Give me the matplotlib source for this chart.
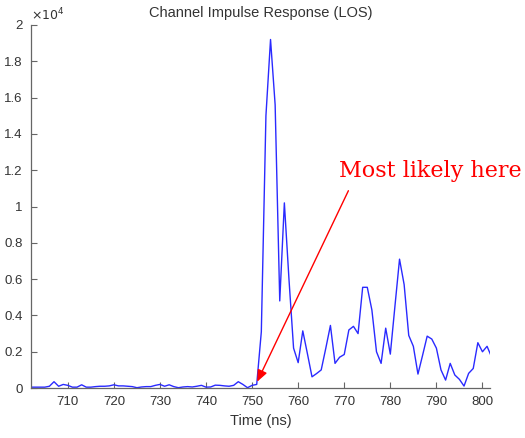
import numpy as np
import matplotlib
matplotlib.use("Agg")
import matplotlib.pyplot as plt
from matplotlib.ticker import FuncFormatter, MultipleLocator

# CIR magnitude, one sample per ns starting at 702 ns
t_start = 702
cir_amp = [
    50, 50, 50, 50, 100, 350, 100, 200, 150, 50,
    50, 180, 50, 50, 80, 100, 100, 120, 180, 120,
    120, 100, 80, 20, 60, 80, 80, 150, 200, 100,
    180, 80, 20, 60, 80, 60, 100, 150, 50, 60,
    160, 150, 120, 100, 150, 350, 200, 20, 150, 200,
    3100, 15000, 19200, 15600, 4800, 10200, 6000, 2200, 1400, 3150,
    1900, 620, 800, 1000, 2200, 3450, 1360, 1700, 1850, 3200,
    3400, 3000, 5550, 5550, 4300, 2000, 1360, 3300, 1870, 4500,
    7100, 5700, 2900, 2300, 770, 1800, 2860, 2700, 2200, 1000,
    440, 1360, 720, 480, 110, 810, 1080, 2500, 2000, 2300,
    1700,
]
t_ns = t_start + np.arange(len(cir_amp))

# first path marker
fp_time, fp_amp = 751.1, 350
label_pos = (770.9, 10870)

plt.rcParams['font.family'] = ['Liberation Sans', 'DejaVu Sans']
grey = '#333333'

fig = plt.figure(figsize=(5.25, 4.38), dpi=100)
ax = fig.add_axes([0.059, 0.114, 0.874, 0.829])

ax.plot(t_ns, cir_amp, color='#2a2aff', lw=1.0)

ax.set_xlim(702, 801.6)
ax.set_ylim(0, 20000)
ax.xaxis.set_major_locator(MultipleLocator(10))
ax.yaxis.set_major_locator(MultipleLocator(2000))
ax.yaxis.set_major_formatter(FuncFormatter(lambda v, _: f"{v / 1e4:g}"))

for side in ('top', 'right'):
    ax.spines[side].set_visible(False)
for side in ('left', 'bottom'):
    ax.spines[side].set_color('#666666')
    ax.spines[side].set_linewidth(0.9)
ax.tick_params(direction='in', length=4, width=0.8, colors='#666666',
               labelcolor=grey, labelsize=9.5, pad=6)

ax.text(0.0, 1.005, r'$\times10^{4}$', transform=ax.transAxes,
        ha='left', va='bottom', fontsize=9, color=grey)
ax.set_title('Channel Impulse Response (LOS)', fontsize=10.5, color=grey, pad=6)
ax.set_xlabel('Time (ns)', fontsize=10.5, color=grey, labelpad=4)

ax.annotate('', xy=(fp_time, fp_amp), xytext=label_pos,
            arrowprops=dict(arrowstyle='-|>,head_length=0.7,head_width=0.3',
                            color='red', lw=1.0, shrinkA=0, shrinkB=0))
ax.text(768.85, 11640, 'Most likely here', color='red', fontsize=16,
        family=['DejaVu Serif'], ha='left', va='baseline')

fig.savefig('out.png', dpi=100)
